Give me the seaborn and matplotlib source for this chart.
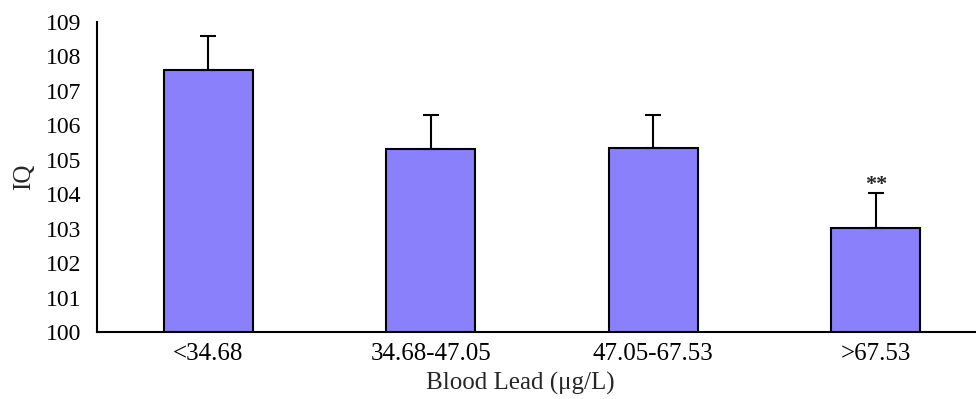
import matplotlib
matplotlib.use("Agg")
import matplotlib.pyplot as plt
import numpy as np
import pandas as pd
import seaborn as sns

# Data
groups = ['<34.68', '34.68-47.05', '47.05-67.53', '>67.53']
iq_mean = [107.6, 105.3, 105.35, 103.02]
iq_err = [1.0, 1.0, 0.95, 1.02]
marks = ['', '', '', '**']

df = pd.DataFrame({'group': groups, 'iq': iq_mean})

sns.set_style('white')
plt.rcParams['font.family'] = ['Liberation Serif', 'DejaVu Serif']

fig = plt.figure(figsize=(9.76, 3.99), dpi=100)
ax = fig.add_axes([0.0994, 0.168, 0.912, 0.777])

sns.barplot(data=df, x='group', y='iq', color='#8a80fb', saturation=1,
            width=0.4, edgecolor='black', linewidth=1.5, ax=ax)

xpos = np.arange(len(groups))
ax.errorbar(xpos, iq_mean, yerr=[np.zeros(len(groups)), iq_err], fmt='none',
            ecolor='black', elinewidth=1.5, capsize=6, capthick=1.5)

for x, m, e, s in zip(xpos, iq_mean, iq_err, marks):
    if s:
        ax.text(x, m + e - 0.05, s, ha='center', va='bottom', fontsize=16,
                fontweight='bold')

ax.set_ylim(100, 109)
ax.set_xlim(-0.5, 3.5)
ax.set_yticks(range(100, 110))
ax.tick_params(axis='both', length=0, colors='black')
ax.tick_params(axis='y', labelsize=17, pad=11)
ax.tick_params(axis='x', labelsize=18, pad=8)
ax.set_xlabel('Blood Lead (μg/L)', fontsize=18, labelpad=5, x=0.475)
ax.set_ylabel('IQ', fontsize=18, labelpad=8)

for side in ['top', 'right']:
    ax.spines[side].set_visible(False)
for side in ['left', 'bottom']:
    ax.spines[side].set_color('black')
    ax.spines[side].set_linewidth(1.5)

plt.savefig('out.png', dpi=100)
